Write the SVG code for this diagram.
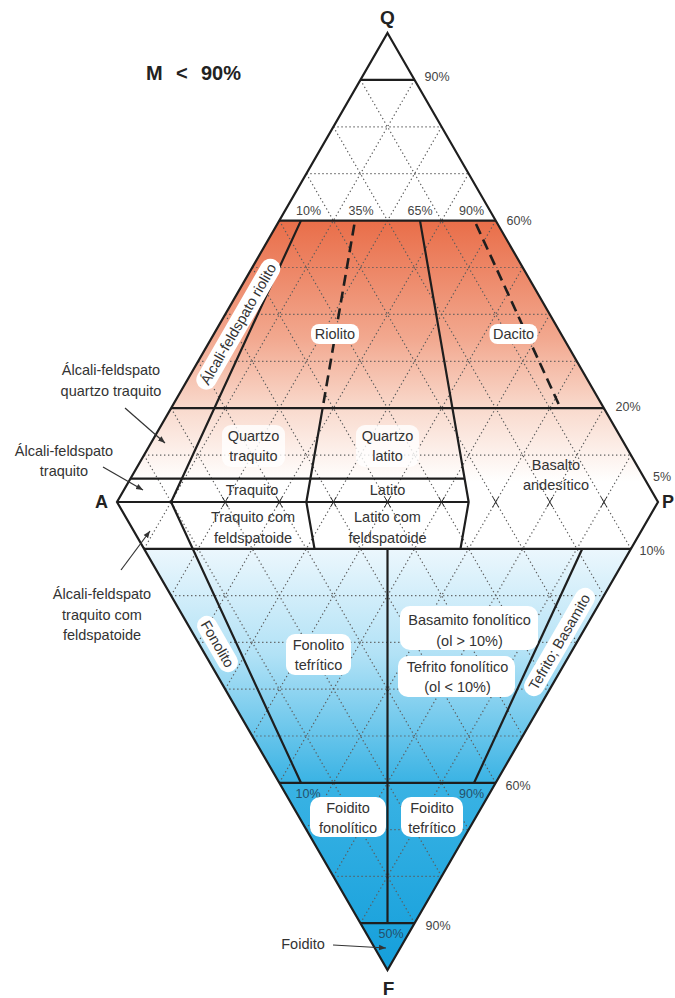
<svg xmlns="http://www.w3.org/2000/svg" width="675" height="998" viewBox="0 0 675 998">
<defs>
<style>
.lbl{font-family:"Liberation Sans",Arial,sans-serif;font-size:14.5px;fill:#333;text-anchor:middle}
.pct{font-family:"Liberation Sans",Arial,sans-serif;font-size:12.5px;fill:#444;text-anchor:middle}
.pctb{font-family:"Liberation Sans",Arial,sans-serif;font-size:12.5px;fill:#24506b;text-anchor:middle}
.vtx{font-family:"Liberation Sans",Arial,sans-serif;font-size:19px;font-weight:bold;fill:#222;text-anchor:middle}
.dot{fill:none;stroke:#5c5c5c;stroke-width:1.2;stroke-dasharray:1.3 2.7}
.solid{fill:none;stroke:#1e1e1e;stroke-width:2.2;stroke-linejoin:miter}
.dash{fill:none;stroke:#1e1e1e;stroke-width:2.6;stroke-dasharray:11 6}
.bg{fill:#fff}
.bgs{fill:#fff;fill-opacity:0.8}
.arrow{fill:none;stroke:#333;stroke-width:1.2}
.xm{fill:none;stroke:#333;stroke-width:1}
</style>
<linearGradient id="gUp" gradientUnits="userSpaceOnUse" x1="0" y1="220.6" x2="0" y2="482">
<stop offset="0" stop-color="#e96e49"/>
<stop offset="0.45" stop-color="#f2a88f"/>
<stop offset="0.72" stop-color="#f9dacd"/>
<stop offset="1" stop-color="#ffffff"/>
</linearGradient>
<linearGradient id="gDn" gradientUnits="userSpaceOnUse" x1="0" y1="548.8" x2="0" y2="970">
<stop offset="0" stop-color="#ecf7fd"/>
<stop offset="0.25" stop-color="#b2e2f6"/>
<stop offset="0.555" stop-color="#3ab3e4"/>
<stop offset="1" stop-color="#159fdb"/>
</linearGradient>
<marker id="ah" viewBox="0 0 10 10" refX="10" refY="5" markerWidth="7" markerHeight="7" markerUnits="userSpaceOnUse" orient="auto">
<path d="M0 1L10 5L0 9Z" fill="#333"/>
</marker>
</defs>

<g id="fills">
<polygon points="279.3,220.6 495.7,220.6 658,502 117,502" fill="url(#gUp)"/>
<polygon points="144.05,548.8 630.95,548.8 387.5,970" fill="url(#gDn)"/>
</g>

<g id="grid" class="dot">
<path d="M144.05 455.1H630.95M198.15 361.3H576.85M225.2 314.4H549.8M252.25 267.5H522.75M306.35 173.7H468.65M333.4 126.8H441.6"/>
<path d="M360.45 79.9L603.9 502M333.4 126.8L549.8 502M306.35 173.7L495.7 502M279.3 220.6L441.6 502M252.25 267.5L387.5 502M225.2 314.4L333.4 502M198.15 361.3L279.3 502M171.1 408.2L225.2 502M144.05 455.1L171.1 502"/>
<path d="M414.55 79.9L171.1 502M441.6 126.8L225.2 502M468.65 173.7L279.3 502M495.7 220.6L333.4 502M522.75 267.5L387.5 502M549.8 314.4L441.6 502M576.85 361.3L495.7 502M603.9 408.2L549.8 502M630.95 455.1L603.9 502"/>
<path d="M171.1 595.6H603.9M198.15 642.4H576.85M225.2 689.2H549.8M252.25 736H522.75M306.35 829.6H468.65M333.4 876.4H441.6"/>
<path d="M360.45 923.2L603.9 502M333.4 876.4L549.8 502M306.35 829.6L495.7 502M279.3 782.8L441.6 502M252.25 736L387.5 502M225.2 689.2L333.4 502M198.15 642.4L279.3 502M171.1 595.6L225.2 502M144.05 548.8L171.1 502"/>
<path d="M414.55 923.2L171.1 502M441.6 876.4L225.2 502M468.65 829.6L279.3 502M495.7 782.8L333.4 502M522.75 736L387.5 502M549.8 689.2L441.6 502M576.85 642.4L495.7 502M603.9 595.6L549.8 502M630.95 548.8L603.9 502"/>
</g>

<g id="base-marks" class="xm">
<path d="M222.2 496.8L228.2 507.2M228.2 496.8L222.2 507.2M276.3 496.8L282.3 507.2M282.3 496.8L276.3 507.2M330.4 496.8L336.4 507.2M336.4 496.8L330.4 507.2M384.5 496.8L390.5 507.2M390.5 496.8L384.5 507.2M438.6 496.8L444.6 507.2M444.6 496.8L438.6 507.2M492.7 496.8L498.7 507.2M498.7 496.8L492.7 507.2M546.8 496.8L552.8 507.2M552.8 496.8L546.8 507.2M600.9 496.8L606.9 507.2M606.9 496.8L600.9 507.2"/>
</g>

<g id="boundaries">
<path class="solid" d="M387.5 33L658 502L387.5 970L117 502Z"/>
<path class="solid" d="M360.45 79.9H414.55M279.3 220.6H495.7M171.1 408.2H603.9M130.5 478.55H464.6M117 502H468.65M144.05 548.8H630.95M279.3 782.8H495.7M360.45 923.2H414.55"/>
<path class="solid" d="M300.94 220.6L171.1 502L300.94 782.8"/>
<path class="solid" d="M322.6 408.2L306.35 502L314.5 548.8"/>
<path class="solid" d="M420 220.6L468.65 502L460.5 548.8"/>
<path class="solid" d="M387.5 548.8V923.2"/>
<path class="solid" d="M582.3 548.8L474.1 782.8"/>
<path class="dash" d="M354.3 224.6L322.6 408.2"/>
<path class="dash" d="M476 224L560.6 408.2"/>
</g>

<g id="vertices">
<text class="vtx" x="387.5" y="24">Q</text>
<text class="vtx" x="101.5" y="508" style="font-size:18px">A</text>
<text class="vtx" x="662" y="508" style="font-size:18px;text-anchor:start">P</text>
<text class="vtx" x="388.5" y="995">F</text>
<text class="vtx" style="font-size:20px;text-anchor:start" y="80"><tspan x="146">M</tspan><tspan x="176">&lt;</tspan><tspan x="201">90%</tspan></text>
</g>

<g id="percent-labels">
<text class="pct" x="437" y="81">90%</text>
<text class="pct" x="308.5" y="214.5">10%</text>
<text class="pct" x="361" y="214.5">35%</text>
<text class="pct" x="420" y="214.5">65%</text>
<text class="pct" x="471.5" y="214.5">90%</text>
<text class="pct" x="519" y="224.5">60%</text>
<text class="pct" x="628" y="411">20%</text>
<text class="pct" x="662" y="481">5%</text>
<text class="pct" x="652" y="554.5">10%</text>
<text class="pct" x="518" y="789.5">60%</text>
<text class="pctb" x="308" y="797.5">10%</text>
<text class="pctb" x="471.5" y="797.5">90%</text>
<text class="pct" x="438" y="929.5">90%</text>
<text class="pctb" x="391" y="937.5">50%</text>
</g>

<g id="alcali-feldspato-riolito" transform="translate(238.3 324.2) rotate(-60)">
<rect class="bg" x="-74" y="-10" width="148" height="20" rx="10"/>
<text class="lbl" x="0" y="5">Álcali-feldspato riolito</text>
</g>
<g id="riolito">
<rect class="bg" x="311" y="324" width="48" height="20" rx="8"/>
<text class="lbl" x="335" y="339">Riolito</text>
</g>
<g id="dacito">
<rect class="bg" x="489.5" y="324" width="48" height="20" rx="8"/>
<text class="lbl" x="513.5" y="339">Dacito</text>
</g>
<g id="quartzo-traquito">
<rect class="bgs" x="222" y="425" width="63" height="42" rx="9"/>
<text class="lbl" x="253.5" y="440.5">Quartzo</text>
<text class="lbl" x="253.5" y="461">traquito</text>
</g>
<g id="quartzo-latito">
<rect class="bgs" x="356" y="425" width="63" height="42" rx="9"/>
<text class="lbl" x="387.5" y="440.5">Quartzo</text>
<text class="lbl" x="387.5" y="461">latito</text>
</g>
<g id="traquito">
<text class="lbl" x="252" y="495">Traquito</text>
</g>
<g id="latito">
<text class="lbl" x="387.5" y="495">Latito</text>
</g>
<g id="basalto-andesitico">
<text class="lbl" x="556" y="470">Basalto</text>
<text class="lbl" x="556" y="490">andesítico</text>
</g>
<g id="traquito-com-feldspatoide">
<text class="lbl" x="253" y="522">Traquito com</text>
<text class="lbl" x="253" y="542.5">feldspatoide</text>
</g>
<g id="latito-com-feldspatoide">
<text class="lbl" x="387.5" y="522">Latito com</text>
<text class="lbl" x="387.5" y="542.5">feldspatoide</text>
</g>
<g id="fonolito" transform="translate(217.5 644) rotate(60)">
<rect class="bg" x="-31" y="-10" width="62" height="20" rx="10"/>
<text class="lbl" x="0" y="5">Fonolito</text>
</g>
<g id="fonolito-tefritico">
<rect class="bg" x="286" y="634" width="65" height="41" rx="9"/>
<text class="lbl" x="318.5" y="650">Fonolito</text>
<text class="lbl" x="318.5" y="670">tefrítico</text>
</g>
<g id="basamito-fonolitico">
<rect class="bg" x="400" y="606" width="138" height="44" rx="10"/>
<text class="lbl" x="469.5" y="625">Basamito fonolítico</text>
<text class="lbl" x="469.5" y="645.5">(ol &gt; 10%)</text>
</g>
<g id="tefrito-fonolitico">
<rect class="bg" x="398" y="656" width="117" height="41" rx="10"/>
<text class="lbl" x="457.5" y="672">Tefrito fonolítico</text>
<text class="lbl" x="457.5" y="692">(ol &lt; 10%)</text>
</g>
<g id="tefrito-basamito" transform="translate(559.5 642) rotate(-60)">
<rect class="bg" x="-61" y="-10" width="122" height="20" rx="10"/>
<text class="lbl" x="0" y="5">Tefrito; Basamito</text>
</g>
<g id="foidito-fonolitico">
<rect class="bg" x="310" y="797" width="76" height="40" rx="10"/>
<text class="lbl" x="348" y="813">Foidito</text>
<text class="lbl" x="348" y="833">fonolítico</text>
</g>
<g id="foidito-tefritico">
<rect class="bg" x="401" y="797" width="62" height="40" rx="10"/>
<text class="lbl" x="432" y="813">Foidito</text>
<text class="lbl" x="432" y="833">tefrítico</text>
</g>

<g id="outside-labels">
<text class="lbl" x="111" y="375">Álcali-feldspato</text>
<text class="lbl" x="111" y="395.5">quartzo traquito</text>
<text class="lbl" x="64" y="455.5">Álcali-feldspato</text>
<text class="lbl" x="64" y="476">traquito</text>
<text class="lbl" x="102" y="599">Álcali-feldspato</text>
<text class="lbl" x="102" y="619.5">traquito com</text>
<text class="lbl" x="102" y="640">feldspatoide</text>
<text class="lbl" x="303" y="949">Foidito</text>
</g>

<g id="connectors">
<path class="arrow" d="M125 408L165 443" marker-end="url(#ah)"/>
<path class="arrow" d="M103 467L143 490" marker-end="url(#ah)"/>
<path class="arrow" d="M121 570L150 531" marker-end="url(#ah)"/>
<path class="arrow" d="M333 945L386 948" marker-end="url(#ah)"/>
</g>
</svg>
